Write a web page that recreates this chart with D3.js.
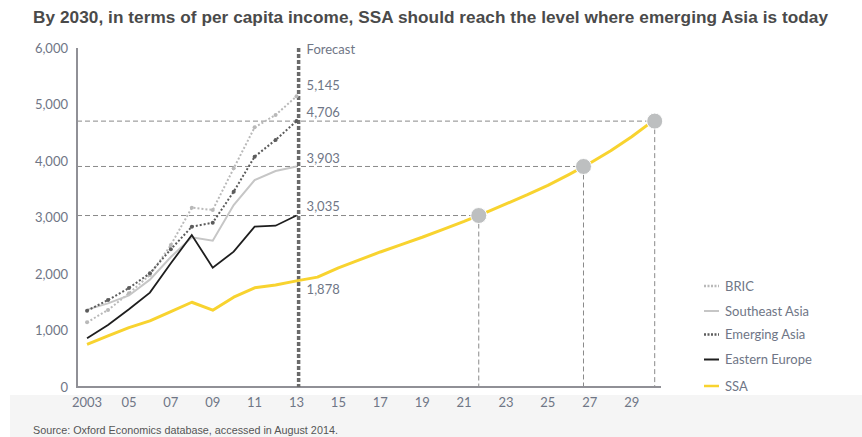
<!DOCTYPE html>
<html>
<head>
<meta charset="utf-8">
<script src="https://cdn.jsdelivr.net/npm/d3@7"></script>
<style>
  html, body { margin: 0; padding: 0; background: #fff; }
  svg { display: block; }
</style>
</head>
<body>
<svg id="chart" width="862" height="437"></svg>
<script>
// ---- data ----
const years = [2003, 2004, 2005, 2006, 2007, 2008, 2009, 2010, 2011, 2012, 2013];
const bric = [1145, 1363, 1658, 1982, 2513, 3174, 3133, 3870, 4596, 4814, 5145];
const southeastAsia = [1370, 1480, 1620, 1900, 2300, 2650, 2590, 3221, 3664, 3823, 3903];
const emergingAsia = [1350, 1540, 1752, 2012, 2437, 2837, 2908, 3457, 4077, 4372, 4706];
const easternEurope = [862, 1097, 1375, 1670, 2189, 2690, 2112, 2395, 2837, 2855, 3035];
const ssaYears = [2003, 2004, 2005, 2006, 2007, 2008, 2009, 2010, 2011, 2012, 2013, 2014, 2015, 2016,
  2017, 2018, 2019, 2020, 2021, 2022, 2023, 2024, 2025, 2026, 2027, 2028, 2029, 2030];
const ssa = [756, 905, 1050, 1170, 1335, 1500, 1360, 1590, 1755, 1805, 1878, 1945, 2110, 2250,
  2390, 2520, 2650, 2790, 2930, 3080, 3240, 3400, 3570, 3760, 3960, 4180, 4430, 4706];
const milestoneYears = [2021.7, 2026.7, 2030.1];
const milestoneValues = [3035, 3903, 4706];
const endLabels = ["5,145", "4,706", "3,903", "3,035", "1,878"];
const yTicks = [0, 1000, 2000, 3000, 4000, 5000, 6000];
const xTicks = [2003, 2005, 2007, 2009, 2011, 2013, 2015, 2017, 2019, 2021, 2023, 2025, 2027, 2029];
const xTickLabels = ["2003", "05", "07", "09", "11", "13", "15", "17", "19", "21", "23", "25", "27", "29"];
const forecastYear = 2013.1;
const legendNames = ["BRIC", "Southeast Asia", "Emerging Asia", "Eastern Europe", "SSA"];

// ---- setup ----
const svg = d3.select("#chart");
const W = 862, H = 437;
const x = d3.scaleLinear().domain([2002.52, 2030.4]).range([77, 661]);
const y = d3.scaleLinear().domain([0, 6000]).range([387, 48]);
const labelColor = "#6f7686";
const fontBody = "Lato, 'Open Sans', sans-serif";

// bottom band
svg.append("rect").attr("x", 10).attr("y", 395).attr("width", W - 10).attr("height", H - 395)
  .attr("fill", "#f5f5f5");

// title
svg.append("text").attr("x", 33).attr("y", 23)
  .attr("font-family", "'Liberation Sans Narrow', 'Arial Narrow', sans-serif")
  .attr("font-weight", "bold").attr("font-size", 17.2).attr("fill", "#4a4a4a")
  .attr("textLength", 795).attr("lengthAdjust", "spacing")
  .text("By 2030, in terms of per capita income, SSA should reach the level where emerging Asia is today");

// source
svg.append("text").attr("x", 33).attr("y", 434)
  .attr("font-family", "'Liberation Sans Narrow', 'Arial Narrow', sans-serif")
  .attr("font-size", 10.8).attr("fill", "#555")
  .text("Source: Oxford Economics database, accessed in August 2014.");

// y tick labels
svg.append("g").selectAll("text").data(yTicks).join("text")
  .attr("x", 68).attr("y", d => y(d) + 4.5)
  .attr("text-anchor", "end").attr("font-family", fontBody).attr("font-size", 13)
  .attr("fill", labelColor)
  .text(d => d3.format(",")(d));

// x tick labels
svg.append("g").selectAll("text").data(xTicks).join("text")
  .attr("x", d => x(d)).attr("y", 407)
  .attr("text-anchor", "middle").attr("font-family", fontBody).attr("font-size", 13)
  .attr("fill", labelColor)
  .text((d, i) => xTickLabels[i]);

// reference dashed lines
const gRef = svg.append("g").attr("stroke", "#8a8a8a").attr("stroke-width", 1)
  .attr("stroke-dasharray", "5,3").attr("fill", "none");
milestoneYears.forEach((yr, i) => {
  gRef.append("line").attr("x1", x.range()[0]).attr("x2", x(yr))
    .attr("y1", y(milestoneValues[i])).attr("y2", y(milestoneValues[i]));
  gRef.append("line").attr("x1", x(yr)).attr("x2", x(yr))
    .attr("y1", y(milestoneValues[i])).attr("y2", y(0));
});

// axes lines
svg.append("line").attr("x1", 77).attr("x2", 77).attr("y1", y(6000)).attr("y2", y(0))
  .attr("stroke", "#909096").attr("stroke-width", 2);
svg.append("line").attr("x1", 76).attr("x2", x.range()[1]).attr("y1", y(0)).attr("y2", y(0))
  .attr("stroke", "#909096").attr("stroke-width", 2);

// forecast line
svg.append("line").attr("x1", x(forecastYear)).attr("x2", x(forecastYear))
  .attr("y1", y(6000)).attr("y2", y(0))
  .attr("stroke", "#6a6a6a").attr("stroke-width", 3.5).attr("stroke-dasharray", "4,2");
svg.append("text").attr("x", x(forecastYear) + 8).attr("y", 54)
  .attr("font-family", fontBody).attr("font-size", 13).attr("fill", labelColor).text("Forecast");

// series
const line = d3.line().x(d => x(d[0])).y(d => y(d[1]));
const series = [
  { vals: bric, color: "#b9b9b9", width: 2, dash: "2,2", marker: true },
  { vals: southeastAsia, color: "#c6c6c6", width: 2, dash: null, marker: false },
  { vals: emergingAsia, color: "#5c5c5c", width: 2, dash: "2,2", marker: true },
  { vals: easternEurope, color: "#1e1e1e", width: 1.8, dash: null, marker: false }
];
series.forEach(s => {
  const pts = years.map((yr, i) => [yr, s.vals[i]]);
  svg.append("path").attr("d", line(pts)).attr("fill", "none")
    .attr("stroke", s.color).attr("stroke-width", s.width)
    .attr("stroke-dasharray", s.dash);
  if (s.marker) {
    svg.append("g").selectAll("circle").data(pts).join("circle")
      .attr("cx", d => x(d[0])).attr("cy", d => y(d[1])).attr("r", 2)
      .attr("fill", s.color);
  }
});
const ssaPts = ssaYears.map((yr, i) => [yr, ssa[i]]);
svg.append("path").attr("d", line(ssaPts)).attr("fill", "none")
  .attr("stroke", "#f8d32f").attr("stroke-width", 3).attr("stroke-linejoin", "round");

// milestone circles
svg.append("g").selectAll("circle").data(milestoneYears).join("circle")
  .attr("cx", d => x(d)).attr("cy", (d, i) => y(milestoneValues[i])).attr("r", 8)
  .attr("fill", "#bdbfc0").attr("stroke", "#fff").attr("stroke-width", 1);

// end labels
const labelYs = [85, 112.5, 158, 206, 289];
svg.append("g").selectAll("text").data(endLabels).join("text")
  .attr("x", x(forecastYear) + 8).attr("y", (d, i) => labelYs[i] + 4.5)
  .attr("font-family", fontBody).attr("font-size", 13).attr("fill", labelColor)
  .text(d => d);

// legend
const legendYs = [286, 311, 334.5, 359.5, 386];
const lg = svg.append("g");
const legendStyles = [
  { color: "#b9b9b9", width: 2.5, dash: "2,1.5" },
  { color: "#c6c6c6", width: 2, dash: null },
  { color: "#5c5c5c", width: 2.5, dash: "2,1.5" },
  { color: "#1e1e1e", width: 2, dash: null },
  { color: "#f8d32f", width: 2.5, dash: null }
];
legendNames.forEach((n, i) => {
  const st = legendStyles[i];
  lg.append("line").attr("x1", 704).attr("x2", 719)
    .attr("y1", legendYs[i]).attr("y2", legendYs[i])
    .attr("stroke", st.color).attr("stroke-width", st.width).attr("stroke-dasharray", st.dash);
  lg.append("text").attr("x", 725).attr("y", legendYs[i] + 4.5)
    .attr("font-family", fontBody).attr("font-size", 13).attr("fill", labelColor).text(n);
});
</script>
</body>
</html>
